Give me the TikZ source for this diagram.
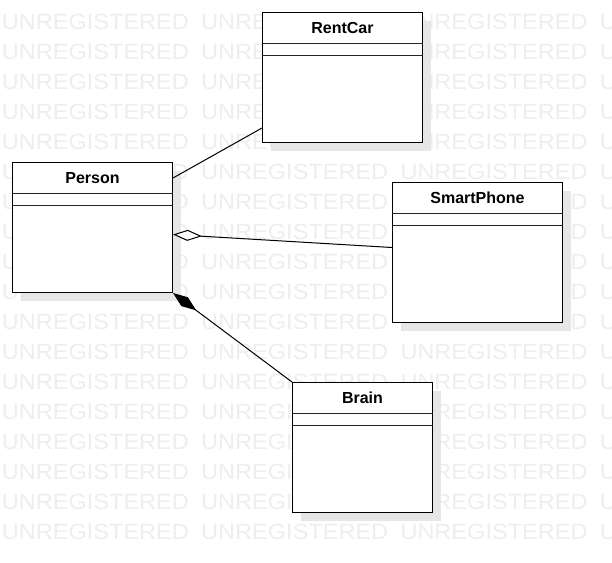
\documentclass[tikz,border=0pt]{standalone}
\usepackage{fontspec}
\setmainfont{Liberation Sans}
\newfontfamily\wmfont[FakeStretch=1.07]{Liberation Sans}
\usetikzlibrary{arrows.meta,shadows,calc}
\definecolor{wmgray}{HTML}{EEEEEE}
\definecolor{shgray}{HTML}{E6E6E6}
\tikzset{
  classbox/.style={draw=black, line width=1pt, fill=white, inner sep=0pt, anchor=north west,
    general shadow={shadow xshift=8pt, shadow yshift=-8pt, fill=shgray}},
  classtitle/.style={font=\bfseries\fontsize{16}{19}\selectfont, inner sep=0pt},
  wmtext/.style={font=\wmfont\fontsize{22}{26}\selectfont, text=wmgray, anchor=base west, inner sep=0pt},
  assoc/.style={draw=black, line width=1pt},
  compline/.style={draw=black!85, line width=1pt},
}
\newcommand\umlclass[6]{%
  \node[classbox, minimum width=#4pt, minimum height=#5pt] (#1) at (#2,#3) {};
  \draw[compline] ([yshift=-31pt]#1.north west) -- ([yshift=-31pt]#1.north east);
  \draw[compline] ([yshift=-43pt]#1.north west) -- ([yshift=-43pt]#1.north east);
  \node[classtitle] (#1-title) at ([yshift=-16pt]#1.north) {#6};
}
\begin{document}
\begin{tikzpicture}[x=1pt,y=-1pt]
\useasboundingbox (0,0) rectangle (612,562);
\fill[white] (0,0) rectangle (612,562);
\begin{scope}
  \clip (0,0) rectangle (612,562);
  \foreach \r in {0,...,17}{
    \foreach \c in {0,...,3}{
      \node[wmtext] (wm-\r-\c) at ({1.7+199.3*\c},{29+30*\r}) {UNREGISTERED};
    }
  }
\end{scope}
\umlclass{rentcar}{262}{12}{160}{130}{RentCar}
\umlclass{person}{12}{162}{160}{130}{Person}
\umlclass{smartphone}{392}{182}{170}{140}{SmartPhone}
\umlclass{brain}{292}{382}{140}{130}{Brain}
\draw[assoc] ([yshift=-16pt]person.north east) -- ([yshift=15pt]rentcar.south west);
\draw[assoc, {Diamond[open,length=29pt,width=11pt,fill=white]}-] ([yshift=-7pt]person.east) -- ([yshift=5pt]smartphone.west);
\draw[assoc, {Diamond[length=29pt,width=11pt]}-] (person.south east) -- (brain.north west);
\end{tikzpicture}
\end{document}
